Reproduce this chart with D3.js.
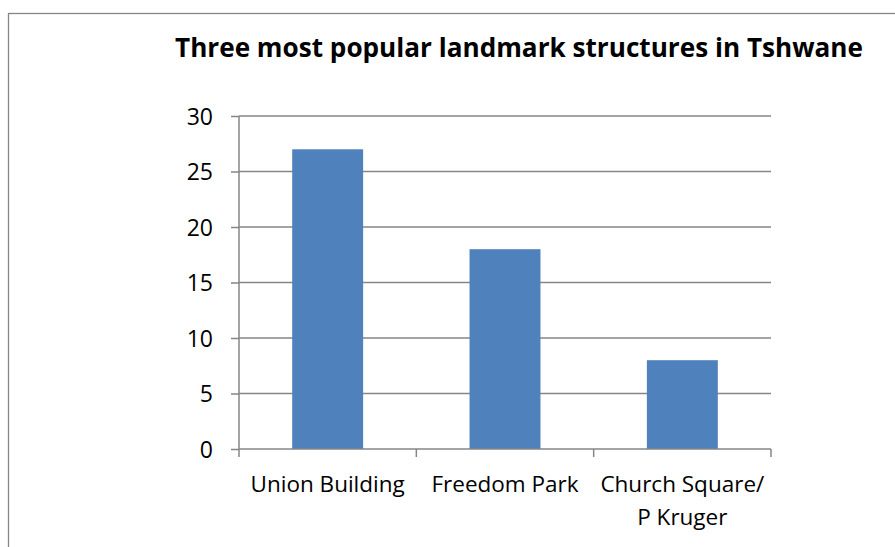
<!DOCTYPE html>
<html>
<head>
<meta charset="utf-8">
<script src="https://cdn.jsdelivr.net/npm/d3@7"></script>
<style>
  body { margin: 0; background: #fff; }
  svg text { font-family: "Open Sans", "Noto Sans", sans-serif; fill: #000; }
</style>
</head>
<body>
<div class="chart"></div>
<script>
var w = 895;
var h = 547;

// data
var categories = ["Union Building", "Freedom Park", "Church Square/\nP Kruger"];
var values = [27, 18, 8];
var yTicks = [0, 5, 10, 15, 20, 25, 30];
var title = "Three most popular landmark structures in Tshwane";

var plotLeft = 239, plotRight = 771, plotTop = 116, plotBottom = 449;

var svg = d3.select(".chart")
  .append("svg")
  .attr("width", w)
  .attr("height", h);

// chart frame
svg.append("rect")
  .attr("x", 8.5)
  .attr("y", 13.5)
  .attr("width", 900)
  .attr("height", 600)
  .attr("fill", "none")
  .attr("stroke", "#868686")
  .attr("stroke-width", 1.3);

svg.append("text")
  .attr("x", 519)
  .attr("y", 57)
  .attr("text-anchor", "middle")
  .attr("font-weight", "bold")
  .attr("font-size", 27)
  .attr("textLength", 688)
  .attr("lengthAdjust", "spacingAndGlyphs")
  .text(title);

var xScale = d3.scaleBand()
  .domain(categories)
  .range([plotLeft, plotRight])
  .paddingInner(0.6)
  .paddingOuter(0.3);

var yScale = d3.scaleLinear()
  .domain([0, 30])
  .range([plotBottom, plotTop]);

// gridlines
svg.selectAll(".grid")
  .data(yTicks.filter(function(d) { return d > 0; }))
  .enter()
  .append("line")
  .attr("class", "grid")
  .attr("x1", plotLeft)
  .attr("x2", plotRight)
  .attr("y1", function(d) { return yScale(d); })
  .attr("y2", function(d) { return yScale(d); })
  .attr("stroke", "#868686")
  .attr("stroke-width", 1.5);

// bars
svg.selectAll(".bar")
  .data(values)
  .enter()
  .append("rect")
  .attr("class", "bar")
  .attr("x", function(d, i) { return xScale(categories[i]); })
  .attr("y", function(d) { return yScale(d); })
  .attr("width", xScale.bandwidth())
  .attr("height", function(d) { return plotBottom - yScale(d); })
  .attr("fill", "#4F81BD");

// y axis
var yAxis = d3.axisLeft(yScale)
  .tickValues(yTicks)
  .tickSize(8)
  .tickPadding(18)
  .tickFormat(d3.format("d"));

var gy = svg.append("g")
  .attr("transform", "translate(" + plotLeft + ",0)")
  .call(yAxis);
gy.select(".domain").remove();
gy.append("line")
  .attr("x1", 0).attr("x2", 0)
  .attr("y1", plotTop).attr("y2", plotBottom)
  .attr("stroke", "#868686").attr("stroke-width", 1.5);
gy.selectAll(".tick line").attr("stroke", "#868686").attr("stroke-width", 1.5);
gy.selectAll(".tick text")
  .attr("font-size", 23)
  .attr("font-family", "Open Sans, sans-serif")
  .attr("fill", "#000")
  .attr("dy", "0.36em");

// x axis with ticks between categories
var xAxisG = svg.append("g")
  .attr("transform", "translate(0," + plotBottom + ")");
xAxisG.append("line")
  .attr("x1", plotLeft).attr("x2", plotRight)
  .attr("stroke", "#868686").attr("stroke-width", 1.5);
var bounds = d3.range(categories.length + 1).map(function(i) { return plotLeft + i * (plotRight - plotLeft) / categories.length; });
xAxisG.selectAll(".xtick")
  .data(bounds)
  .enter()
  .append("line")
  .attr("x1", function(d) { return d; })
  .attr("x2", function(d) { return d; })
  .attr("y1", 0)
  .attr("y2", 8)
  .attr("stroke", "#868686")
  .attr("stroke-width", 1.5);

xAxisG.selectAll(".xlabel")
  .data(categories)
  .enter()
  .append("text")
  .attr("class", "xlabel")
  .attr("text-anchor", "middle")
  .attr("font-size", 22.5)
  .attr("y", 43)
  .each(function(d) {
    var t = d3.select(this);
    var cx = xScale(d) + xScale.bandwidth() / 2;
    d.split("\n").forEach(function(line, j) {
      t.append("tspan")
        .attr("x", cx)
        .attr("dy", j === 0 ? 0 : 33)
        .text(line);
    });
  });
</script>
</body>
</html>
